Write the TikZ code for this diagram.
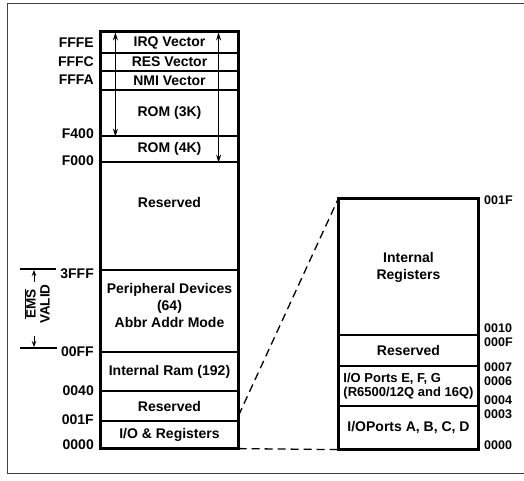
\documentclass[tikz,border=0pt]{standalone}
\usepackage{fontspec}
\setmainfont{Liberation Sans}
\usepackage{tikz}
\usetikzlibrary{arrows.meta,positioning,calc}

\begin{document}
\begin{tikzpicture}[
  x=1pt, y=-1pt,
  every node/.style={font=\fontsize{14}{17}\selectfont\bfseries, inner sep=0pt},
  cell/.style={draw, line width=1.2pt, minimum width=137pt, align=center},
  rcell/.style={draw, line width=1.2pt, minimum width=139pt, align=center},
  addrl/.style={anchor=east},
  addrr/.style={anchor=west, font=\fontsize{12.5}{13}\selectfont\bfseries},
  outline/.style={line width=2.2pt},
  dimarrow/.style={{Stealth[length=8pt,width=5pt]}-{Stealth[length=8pt,width=5pt]}, line width=0.8pt},
  tickarrow/.style={-{Stealth[length=6pt,width=4.5pt]}, line width=0.9pt},
  zoomline/.style={dashed, dash pattern=on 8pt off 5pt, line width=1.3pt}
]
\useasboundingbox (0,0) rectangle (524,480);

% outer frame of the figure
\draw[line width=0.8pt, black!75] (524,3) -- (7,3) -- (7,473) -- (524,473);

% Left column: full memory map
\node[cell, minimum height=21pt] (irq) at (169.5,42.5) {IRQ Vector};
\node[cell, minimum height=18pt] (res) at (169.5,62) {RES Vector};
\node[cell, minimum height=19pt] (nmi) at (169.5,80.5) {NMI Vector};
\node[cell, minimum height=46pt] (rom3) at (169.5,113) {ROM (3K)};
\node[cell, minimum height=26pt] (rom4) at (169.5,149) {ROM (4K)};
\node[cell, minimum height=108pt] (resv) at (169.5,216) {};
\node (resvtxt) at (169.5,202) {Reserved};
\node[cell, minimum height=82pt] (periph) at (169.5,311) {};
\node[align=center] (periphtxt) at (169.5,305) {Peripheral Devices\\(64)\\Abbr Addr Mode};
\node[cell, minimum height=39pt] (ram) at (169.5,371.5) {Internal Ram (192)};
\node[cell, minimum height=30pt] (resvlo) at (169.5,406) {Reserved};
\node[cell, minimum height=27pt] (io) at (169.5,434.5) {I/O \& Registers};
\draw[outline] (irq.north west) rectangle (io.south east);

% ROM range arrows
\draw[dimarrow] ([xshift=15pt,yshift=-1pt]irq.north west) -- ([xshift=15pt]rom3.south west);
\draw[dimarrow] ([xshift=-20pt,yshift=-1pt]irq.north east) -- ([xshift=-20pt]rom4.south east);

% left addresses
\foreach \y/\t in {43/FFFE, 62/FFFC, 80/FFFA, 134/F400, 161/F000, 274/3FFF, 352/00FF, 391/0040, 420/001F, 445/0000}
  \node[addrl] (l\t) at (94,\y) {\t};

% EMS valid bracket
\coordinate (emstopl) at (20,269);
\coordinate (emstopr) at (56,269);
\coordinate (emsbotl) at (20,348);
\coordinate (emsbotr) at (57,348);
\draw[line width=1.3pt] (emstopl) -- (emstopr);
\draw[line width=1.3pt] (emsbotl) -- (emsbotr);
\node[rotate=90, align=center, font=\fontsize{13.5}{14}\selectfont\bfseries] (ems) at (37,304) {$\overline{\hbox{EMS}}$\\VALID};
\draw[tickarrow] (34,282) -- (34,270);
\draw[tickarrow] (34,336) -- (34,347);

% Right column: register page
\node[rcell, minimum height=136pt] (intreg) at (408.5,267) {Internal\\Registers};
\node[rcell, minimum height=31pt] (resvreg) at (408.5,350.5) {Reserved};
\node[rcell, minimum height=40pt, align=left, font=\fontsize{13}{14}\selectfont\bfseries] (ioefg) at (408.5,386) {I/O Ports E, F, G\\(R6500/12Q and 16Q)};
\node[rcell, minimum height=43pt] (ioabcd) at (408.5,427.5) {I/OPorts A, B, C, D};
\draw[outline] (intreg.north west) rectangle (ioabcd.south east);

% right addresses
\foreach \y/\t in {200/001F, 328/0010, 342/000F, 367/0007, 381/0006, 400/0004, 414/0003, 445/0000}
  \node[addrr] (r\t) at (484,\y) {\t};

% zoom lines
\draw[zoomline] ([yshift=5pt]io.north east) -- (intreg.north west);
\draw[zoomline] (io.south east) -- (ioabcd.south west);

\end{tikzpicture}
\end{document}
